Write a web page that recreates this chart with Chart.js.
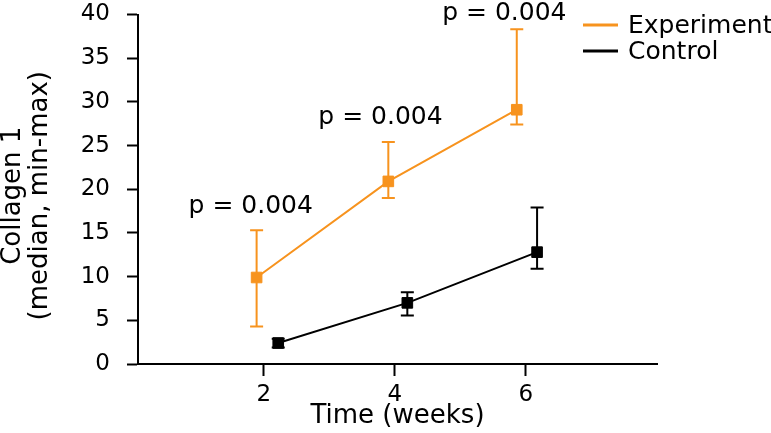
<!DOCTYPE html>
<html><head><meta charset="utf-8">
<script src="https://cdn.jsdelivr.net/npm/chart.js@4/dist/chart.umd.min.js"></script>
<style>html,body{margin:0;padding:0;background:#fff}</style>
</head><body>
<canvas id="c" width="771" height="433" style="display:block;width:771px;height:433px"></canvas>
<script>
// ---- data ----
const seriesNames = ['Experiment', 'Control'];
const expWeeks  = [1.89, 3.90, 5.86];
const expMedian = [9.9, 20.9, 29.1];
const expMin    = [4.3, 19.0, 27.4];
const expMax    = [15.3, 25.4, 38.3];
const ctrlWeeks  = [2.22, 4.19, 6.17];
const ctrlMedian = [2.4, 7.0, 12.8];
const ctrlMin    = [1.9, 5.55, 10.9];
const ctrlMax    = [2.9, 8.2, 17.9];
const xTickValues = [2, 4, 6];
const yTickValues = [0, 5, 10, 15, 20, 25, 30, 35, 40];
const pLabels      = ['p = 0.004', 'p = 0.004', 'p = 0.004'];
const pLabelWeeks  = [1.80, 3.78, 5.67];
const pLabelValues = [17.3, 27.5, 39.35];
const xTitle = 'Time (weeks)';
const yTitle = ['Collagen 1', '(median, min-max)'];

// ---- styles ----
const ORANGE = '#F7931E';
const BLACK = '#000000';
const FONT = "'DejaVu Sans', Verdana, sans-serif";
const colors = [ORANGE, BLACK];

const toPts = (xs, ys) => xs.map((x, i) => ({x: x, y: ys[i]}));
const errData = [
  {xs: expWeeks, lo: expMin, hi: expMax},
  {xs: ctrlWeeks, lo: ctrlMin, hi: ctrlMax}
];

const errorBars = {
  id: 'errorBars',
  beforeDatasetsDraw(chart) {
    const {ctx, scales: {x, y}} = chart;
    ctx.save();
    errData.forEach((e, di) => {
      ctx.strokeStyle = colors[di];
      ctx.lineWidth = 2;
      e.xs.forEach((xv, i) => {
        const px = x.getPixelForValue(xv);
        const pt = y.getPixelForValue(e.hi[i]);
        const pb = y.getPixelForValue(e.lo[i]);
        ctx.beginPath();
        ctx.moveTo(px, pt); ctx.lineTo(px, pb);
        ctx.moveTo(px - 6.5, pt); ctx.lineTo(px + 6.5, pt);
        ctx.moveTo(px - 6.5, pb); ctx.lineTo(px + 6.5, pb);
        ctx.stroke();
      });
    });
    ctx.restore();
  }
};

const annotations = {
  id: 'annotations',
  afterDraw(chart) {
    const {ctx, scales: {x, y}} = chart;
    ctx.save();
    ctx.font = '25px ' + FONT;
    ctx.fillStyle = BLACK;
    ctx.textAlign = 'center';
    ctx.textBaseline = 'alphabetic';
    pLabels.forEach((t, i) => {
      ctx.fillText(t, x.getPixelForValue(pLabelWeeks[i]), y.getPixelForValue(pLabelValues[i]));
    });
    // legend
    ctx.textAlign = 'left';
    ctx.textBaseline = 'middle';
    seriesNames.forEach((n, i) => {
      const ly = 25 + i * 26;
      ctx.strokeStyle = colors[i];
      ctx.lineWidth = 3;
      ctx.beginPath(); ctx.moveTo(583, ly); ctx.lineTo(618, ly); ctx.stroke();
      ctx.fillText(n, 628, ly + 1);
    });
    ctx.restore();
  }
};

new Chart(document.getElementById('c'), {
  type: 'line',
  data: {
    datasets: [
      {label: seriesNames[0], data: toPts(expWeeks, expMedian), borderColor: ORANGE, backgroundColor: ORANGE,
       borderWidth: 2, pointStyle: 'rect', pointRadius: 7.5, pointBorderWidth: 1, tension: 0},
      {label: seriesNames[1], data: toPts(ctrlWeeks, ctrlMedian), borderColor: BLACK, backgroundColor: BLACK,
       borderWidth: 2, pointStyle: 'rect', pointRadius: 7.5, pointBorderWidth: 1, tension: 0}
    ]
  },
  options: {
    responsive: false,
    animation: false,
    layout: {padding: {top: 14.5, right: 114, bottom: 0, left: 0}},
    plugins: {legend: {display: false}, tooltip: {enabled: false}},
    scales: {
      x: {
        type: 'linear', min: 0.08, max: 8,
        afterBuildTicks: s => { s.ticks = xTickValues.map(v => ({value: v})); },
        afterFit: s => { s.height = 69; s.paddingLeft = 0; s.paddingRight = 0; },
        grid: {drawOnChartArea: false, drawTicks: true, tickLength: 12, tickWidth: 2, color: BLACK},
        border: {color: BLACK, width: 2},
        ticks: {color: BLACK, font: {family: FONT, size: 23}, padding: 5, maxRotation: 0},
        title: {display: true, text: xTitle, color: BLACK, font: {family: FONT, size: 26, lineHeight: 1.1}, padding: {top: 0, bottom: 2}}
      },
      y: {
        type: 'linear', min: 0, max: 40,
        afterBuildTicks: s => { s.ticks = yTickValues.map(v => ({value: v})); },
        afterFit: s => { s.width = 138; s.paddingTop = 0; s.paddingBottom = 0; },
        grid: {drawOnChartArea: false, drawTicks: true, tickLength: 11, tickWidth: 2, color: BLACK},
        border: {color: BLACK, width: 2},
        ticks: {color: BLACK, font: {family: FONT, size: 23}, padding: 17},
        title: {display: true, text: yTitle.map(t => t + '\u2002'), color: BLACK, font: {family: FONT, size: 26, lineHeight: 1.02}, padding: {top: 0, bottom: 0}}
      }
    }
  },
  plugins: [errorBars, annotations]
});
</script>
</body></html>
